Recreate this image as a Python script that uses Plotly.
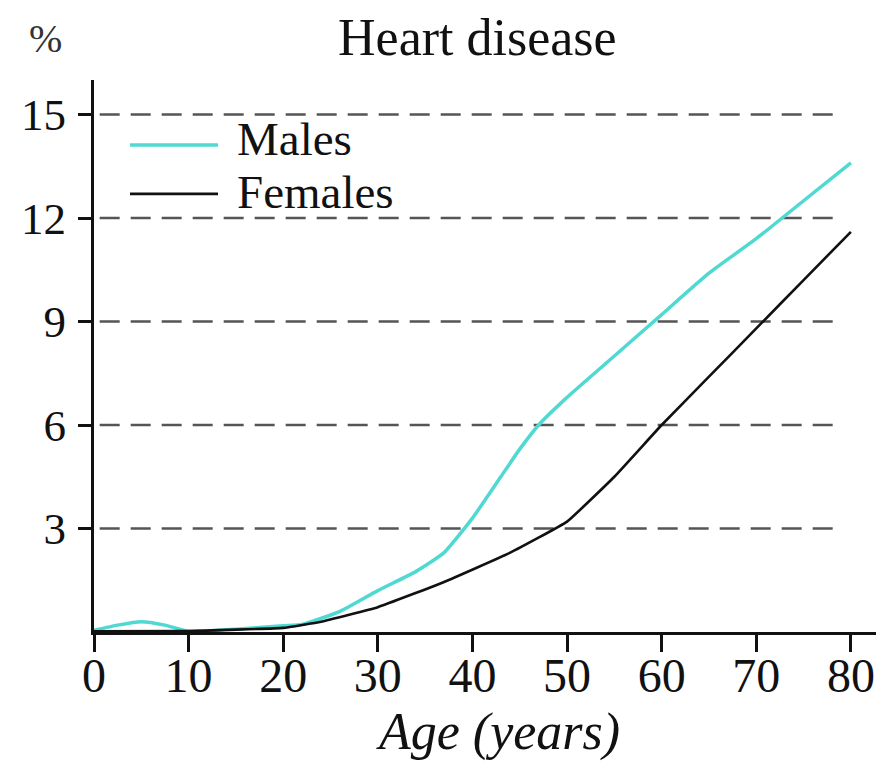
import plotly.graph_objects as go

# ---- data ----
series_names = ["Males", "Females"]

age_males = [0, 2.5, 5, 7.5, 10, 15, 20, 22, 26, 30, 34, 37, 40, 43, 45, 47, 50, 55, 60, 65, 70, 75, 80]
pct_males = [0.05, 0.2, 0.3, 0.2, 0.02, 0.08, 0.18, 0.22, 0.6, 1.2, 1.75, 2.3, 3.3, 4.5, 5.3, 6.0, 6.8, 8.0, 9.2, 10.4, 11.4, 12.5, 13.6]

age_females = [0, 10, 20, 24, 30, 37, 44, 50, 55, 60, 65, 70, 75, 80]
pct_females = [0.02, 0.03, 0.12, 0.3, 0.72, 1.45, 2.3, 3.2, 4.5, 6.0, 7.4, 8.8, 10.2, 11.6]

x_ticks = [0, 10, 20, 30, 40, 50, 60, 70, 80]
y_ticks = [3, 6, 9, 12, 15]

FONT = "Liberation Serif"
INK = "#111111"
CYAN = "#4FD9D2"
colors = [CYAN, INK]
widths = [3.5, 2.6]

fig = go.Figure()
fig.add_trace(go.Scatter(x=age_males, y=pct_males, mode="lines", name=series_names[0],
                         line=dict(color=colors[0], width=widths[0], shape="spline", smoothing=0.5)))
fig.add_trace(go.Scatter(x=age_females, y=pct_females, mode="lines", name=series_names[1],
                         line=dict(color=colors[1], width=widths[1], shape="spline", smoothing=0.3)))

shapes = []
for v in y_ticks:
    shapes.append(dict(type="line", xref="x", yref="y", x0=0.6, x1=78.8, y0=v, y1=v,
                       layer="below", line=dict(color="#555555", width=2.5, dash="20px,11px")))

# legend drawn as key lines + labels (to match the compact spacing of the original)
legend_line_y = [0.8824, 0.7937]
legend_text_y = [0.8932, 0.7973]
annotations = []
for name, col, w, ly, ty in zip(series_names, colors, widths, legend_line_y, legend_text_y):
    shapes.append(dict(type="line", xref="paper", yref="paper", x0=0.0456, x1=0.157, y0=ly, y1=ly,
                       line=dict(color=col, width=w)))
    annotations.append(dict(text=name, xref="paper", yref="paper", x=0.1785, y=ty,
                            xanchor="left", yanchor="middle", showarrow=False,
                            font=dict(family=FONT, size=47, color=INK)))

annotations += [
    dict(text="Heart disease", xref="paper", yref="paper", x=0.485, y=1.077,
         xanchor="center", yanchor="middle", showarrow=False,
         font=dict(family=FONT, size=52, color=INK)),
    dict(text="%", xref="paper", yref="paper", x=-0.062, y=1.076,
         xanchor="center", yanchor="middle", showarrow=False,
         font=dict(family=FONT, size=40, color="#333333")),
    dict(text="<i>Age (years)</i>", xref="paper", yref="paper", x=0.511, y=-0.182,
         xanchor="center", yanchor="middle", showarrow=False,
         font=dict(family=FONT, size=52, color=INK)),
]

fig.update_layout(
    width=876, height=753,
    margin=dict(l=86, r=0, t=72, b=128.5, autoexpand=False),
    paper_bgcolor="white", plot_bgcolor="white",
    font=dict(family=FONT, color=INK, size=46),
    shapes=shapes,
    annotations=annotations,
    showlegend=False,
    xaxis=dict(range=[0, 83.5], tickvals=x_ticks, ticktext=[str(t) for t in x_ticks],
               showgrid=False, zeroline=False, showline=True, linecolor=INK, linewidth=3,
               ticks="outside", ticklen=17, tickwidth=3, tickcolor=INK,
               tickfont=dict(family=FONT, size=48, color=INK),
               ticklabelstandoff=-18, automargin=False),
    yaxis=dict(range=[0, 16], tickvals=y_ticks, ticktext=[str(t) for t in y_ticks],
               showgrid=False, zeroline=False, showline=True, linecolor=INK, linewidth=3,
               ticks="outside", ticklen=13, tickwidth=3, tickcolor=INK,
               tickfont=dict(family=FONT, size=45, color=INK),
               ticklabelstandoff=3, automargin=False),
)

fig.write_html("out.html")
